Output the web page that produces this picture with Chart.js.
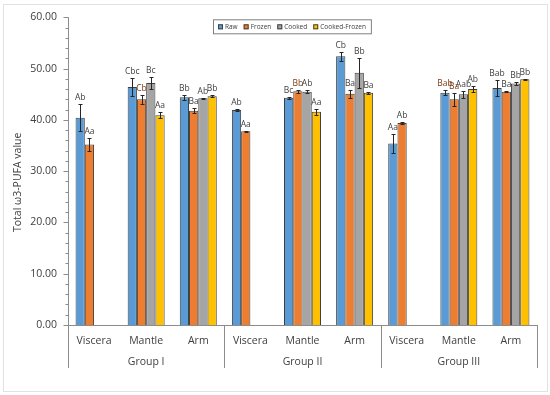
<!DOCTYPE html>
<html>
<head>
<meta charset="utf-8">
<script src="https://cdn.jsdelivr.net/npm/chart.js@4.4.1/dist/chart.umd.min.js"></script>
<style>
  html, body { margin: 0; padding: 0; background: #fff; }
  #wrap { position: relative; width: 550px; height: 395px; }
  #frame { position: absolute; left: 3px; top: 4px; width: 543px; height: 386px; border: 1px solid #e2e2e2; }
  canvas { position: absolute; left: 0; top: 0; }
</style>
</head>
<body>
<div id="wrap">
  <div id="frame"></div>
  <canvas id="pufaChart" width="550" height="395"></canvas>
</div>
<script>
const categories = ['Viscera', 'Mantle', 'Arm', 'Viscera', 'Mantle', 'Arm', 'Viscera', 'Mantle', 'Arm'];
const groups = ['Group I', 'Group II', 'Group III'];
const seriesNames = ['Raw', 'Frozen', 'Cooked', 'Cooked-Frozen'];

const rawValues    = [40.4, 46.4, 44.4, 41.9, 44.3, 52.4, 35.4, 45.3, 46.2];
const frozenValues = [35.2, 44.0, 41.8, 37.8, 45.6, 45.1, 39.4, 44.0, 45.5];
const cookedValues = [null, 47.2, 44.2, null, 45.5, 49.2, null, 45.0, 47.1];
const cookedFrozenValues = [null, 40.9, 44.6, null, 41.6, 45.3, null, 46.0, 47.9];

const rawErrors    = [2.6, 1.7, 0.5, 0.2, 0.2, 0.9, 1.9, 0.5, 1.5];
const frozenErrors = [1.2, 0.9, 0.5, 0.1, 0.3, 0.8, 0.2, 1.2, 0.1];
const cookedErrors = [null, 1.2, 0.1, null, 0.3, 2.9, null, 0.7, 0.3];
const cookedFrozenErrors = [null, 0.6, 0.2, null, 0.6, 0.2, null, 0.6, 0.1];

const rawLetters    = ['Ab', 'Cbc', 'Bb', 'Ab', 'Bc', 'Cb', 'Aa', 'Bab', 'Bab'];
const frozenLetters = ['Aa', 'Cb', 'Ba', 'Aa', 'Bb', 'Ba', 'Ab', 'Ba', 'Ba'];
const cookedLetters = ['', 'Bc', 'Ab', '', 'Ab', 'Bb', '', 'Aab', 'Bb'];
const cookedFrozenLetters = ['', 'Aa', 'Bb', '', 'Aa', 'Ba', '', 'Ab', 'Bb'];

const errors = [rawErrors, frozenErrors, cookedErrors, cookedFrozenErrors];
const letters = [rawLetters, frozenLetters, cookedLetters, cookedFrozenLetters];
// a few letters are printed in brown in the original
const brownLetters = { '0-7': true, '1-1': true, '1-4': true, '1-7': true };

const colors = ['#5B9BD5', '#ED7D31', '#A5A5A5', '#FFC000'];
const FONT = '"Open Sans", "Noto Sans", sans-serif';
const TEXT = '#404040';
const AXIS = '#8c8c8c';

const overlay = {
    id: 'overlay',
    afterDatasetsDraw(chart) {
        const ctx = chart.ctx, y = chart.scales.y;
        ctx.save();
        chart.data.datasets.forEach((ds, di) => {
            const meta = chart.getDatasetMeta(di);
            meta.data.forEach((bar, i) => {
                const v = ds.data[i];
                if (v == null) return;
                const e = errors[di][i] || 0;
                const top = Math.round(y.getPixelForValue(v + e)) + 0.5;
                const bot = Math.round(y.getPixelForValue(v - e)) + 0.5;
                const bx = Math.round(bar.x) + 0.5;
                ctx.strokeStyle = '#262626';
                ctx.lineWidth = 1;
                ctx.beginPath();
                ctx.moveTo(bx, top); ctx.lineTo(bx, bot);
                ctx.moveTo(bx - 2, top); ctx.lineTo(bx + 2, top);
                ctx.moveTo(bx - 2, bot); ctx.lineTo(bx + 2, bot);
                ctx.stroke();
                const txt = letters[di][i];
                if (txt) {
                    ctx.fillStyle = brownLetters[di + '-' + i] ? '#7a3a14' : TEXT;
                    ctx.font = '8.5px ' + FONT;
                    ctx.textAlign = 'center';
                    ctx.textBaseline = 'bottom';
                    ctx.fillText(txt, bar.x, top - 3);
                }
            });
        });
        ctx.restore();
    },
    afterDraw(chart) {
        const ctx = chart.ctx, x = chart.scales.x, y = chart.scales.y;
        const area = chart.chartArea;
        const ext = area.bottom + 43;
        ctx.save();
        ctx.strokeStyle = AXIS;
        ctx.lineWidth = 1;
        const ax = Math.round(area.left) + 0.5;
        const ay = Math.round(area.bottom) + 0.5;
        ctx.beginPath();
        ctx.moveTo(ax, area.top); ctx.lineTo(ax, ext);
        ctx.moveTo(area.left, ay); ctx.lineTo(area.right, ay);
        // y ticks, major and minor
        for (let v = y.min; v <= y.max; v += 2) {
            const py = Math.round(y.getPixelForValue(v)) + 0.5;
            const len = v % 10 === 0 ? 5 : 3;
            ctx.moveTo(ax - len, py); ctx.lineTo(ax, py);
        }
        // group dividers
        const per = categories.length / groups.length;
        const cw = x.width / categories.length;
        for (let g = 1; g <= groups.length; g++) {
            const px = Math.round(x.left + cw * per * g) + 0.5;
            ctx.moveTo(px, area.bottom); ctx.lineTo(px, ext);
        }
        ctx.stroke();
        // group labels
        ctx.fillStyle = TEXT;
        ctx.font = '10.5px ' + FONT;
        ctx.textAlign = 'center';
        ctx.textBaseline = 'middle';
        groups.forEach((g, gi) => {
            ctx.fillText(g, x.left + cw * per * (gi + 0.5), area.bottom + 37);
        });
        // y title
        ctx.save();
        ctx.translate(18, area.top + 165);
        ctx.rotate(-Math.PI / 2);
        ctx.font = '10.5px ' + FONT;
        ctx.fillText('Total \u03c93-PUFA value', 0, 0);
        ctx.restore();
        // legend
        ctx.font = '6.5px ' + FONT;
        const lx = area.left + 145, ly = area.top + 2;
        const widths = seriesNames.map(n => ctx.measureText(n).width);
        let total = 5;
        widths.forEach(w => { total += 5 + 2 + w + 6; });
        total -= 1;
        ctx.strokeStyle = '#7f7f7f';
        ctx.fillStyle = '#fff';
        ctx.fillRect(lx + 0.5, ly + 0.5, total, 14);
        ctx.strokeRect(lx + 0.5, ly + 0.5, total, 14);
        let cx = lx + 5;
        const my = ly + 7.5;
        seriesNames.forEach((n, i) => {
            ctx.fillStyle = colors[i];
            ctx.fillRect(cx, my - 2.5, 5, 5);
            ctx.strokeStyle = '#404040';
            ctx.strokeRect(cx + 0.5, my - 2, 4, 4);
            ctx.fillStyle = TEXT;
            ctx.textAlign = 'left';
            ctx.textBaseline = 'middle';
            ctx.fillText(n, cx + 7, my);
            cx += 5 + 2 + widths[i] + 6;
        });
        ctx.restore();
    }
};

const seriesValues = [rawValues, frozenValues, cookedValues, cookedFrozenValues];

new Chart(document.getElementById('pufaChart'), {
    type: 'bar',
    data: {
        labels: categories,
        datasets: seriesNames.map((name, i) => ({
            label: name,
            data: seriesValues[i],
            backgroundColor: colors[i],
            borderColor: '#404040',
            borderWidth: 1,
            categoryPercentage: 0.71,
            barPercentage: 1.0
        }))
    },
    options: {
        responsive: false,
        animation: false,
        layout: { padding: { top: 15, right: 13, left: 0, bottom: 0 } },
        plugins: { legend: { display: false }, tooltip: { enabled: false } },
        scales: {
            x: {
                grid: { display: false, drawTicks: false },
                border: { display: false },
                ticks: { color: TEXT, font: { family: FONT, size: 10.5 }, padding: 10, maxRotation: 0, autoSkip: false },
                afterFit: s => { s.height = 70; }
            },
            y: {
                min: 0, max: 60,
                grid: { display: false, drawTicks: false },
                border: { display: false },
                ticks: { stepSize: 10, color: TEXT, font: { family: FONT, size: 10.5 }, padding: 11, callback: v => v.toFixed(2) },
                afterFit: s => { s.width = 68; }
            }
        }
    },
    plugins: [overlay]
});
</script>
</body>
</html>
